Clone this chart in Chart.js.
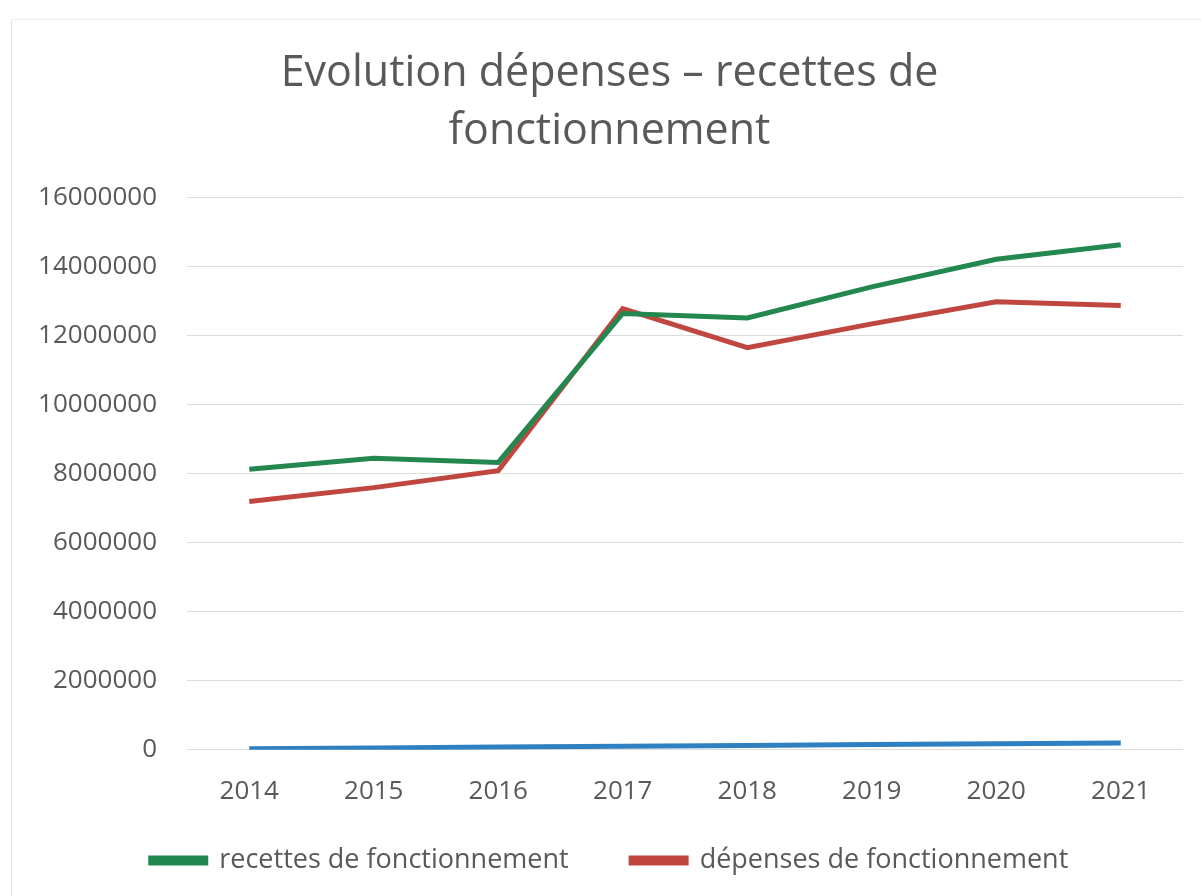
<!DOCTYPE html>
<html>
<head>
<meta charset="utf-8">
<script src="https://cdn.jsdelivr.net/npm/chart.js@4"></script>
<style>
  html, body { margin: 0; padding: 0; background: #fff; }
  #wrap { position: relative; width: 1201px; height: 896px; }
  #frame { position: absolute; left: 11px; top: 19px; width: 1200px; height: 900px;
           border-left: 1px solid #e4e4e4; border-top: 1px solid #ececec; }
  canvas { position: absolute; left: 0; top: 0; }
</style>
</head>
<body>
<div id="wrap">
  <div id="frame"></div>
  <canvas id="chart" width="1201" height="896"></canvas>
</div>
<script>
// Données
const years = ['2014', '2015', '2016', '2017', '2018', '2019', '2020', '2021'];
const recettes = [8120000, 8440000, 8320000, 12630000, 12500000, 13400000, 14200000, 14620000];
const depenses = [7190000, 7590000, 8080000, 12770000, 11640000, 12330000, 12970000, 12860000];
// troisième série (sans légende), presque à zéro
const serie3 = [30000, 55000, 80000, 105000, 125000, 150000, 175000, 200000];
const yTicks = [0, 2000000, 4000000, 6000000, 8000000, 10000000, 12000000, 14000000, 16000000];

const textColor = '#595959';
const fontFamily = '"Open Sans", "Liberation Sans", sans-serif';

new Chart(document.getElementById('chart'), {
    type: 'line',
    data: {
        labels: years,
        datasets: [
            {
                label: 'recettes de fonctionnement',
                data: recettes,
                borderColor: '#23884f',
                backgroundColor: '#23884f',
                borderWidth: 5,
                pointRadius: 0,
                tension: 0
            },
            {
                label: 'dépenses de fonctionnement',
                data: depenses,
                borderColor: '#c0473f',
                backgroundColor: '#c0473f',
                borderWidth: 5,
                pointRadius: 0,
                tension: 0
            },
            {
                label: 'serie3',
                data: serie3,
                borderColor: '#2f80c0',
                backgroundColor: '#2f80c0',
                borderWidth: 5,
                pointRadius: 0,
                tension: 0
            }
        ]
    },
    options: {
        responsive: false,
        animation: false,
        layout: { padding: { left: 36, right: 18, top: 45, bottom: 12 } },
        plugins: {
            title: {
                display: true,
                text: ['Evolution dépenses – recettes de', 'fonctionnement'],
                color: textColor,
                font: { family: fontFamily, size: 43, weight: 'normal', lineHeight: 1.35 },
                padding: { top: 0, bottom: 36 }
            },
            legend: {
                position: 'bottom',
                labels: {
                    color: textColor,
                    font: { family: fontFamily, size: 27 },
                    boxWidth: 55,
                    boxHeight: 5,
                    padding: 22,
                    // seulement les deux séries nommées; espace en plus après la première
                    generateLabels: (chart) => Chart.defaults.plugins.legend.labels.generateLabels(chart)
                        .filter(item => item.datasetIndex < 2)
                        .map(item => {
                            if (item.datasetIndex === 0) item.text = item.text + '\u2003\u2002';
                            return item;
                        })
                }
            },
            tooltip: { enabled: false }
        },
        scales: {
            x: {
                offset: true,
                grid: { display: false },
                border: { display: false },
                ticks: {
                    color: textColor,
                    font: { family: fontFamily, size: 26 },
                    padding: 18
                }
            },
            y: {
                min: 0,
                max: 16000000,
                afterFit: (scale) => { scale.width = 151; },
                afterBuildTicks: (scale) => { scale.ticks = yTicks.map(v => ({ value: v })); },
                grid: { color: '#dcdcdc', lineWidth: 1, drawTicks: false },
                border: { display: false },
                ticks: {
                    color: textColor,
                    font: { family: fontFamily, size: 26 },
                    padding: 30,
                    callback: (v) => String(v)
                }
            }
        }
    }
});
</script>
</body>
</html>
